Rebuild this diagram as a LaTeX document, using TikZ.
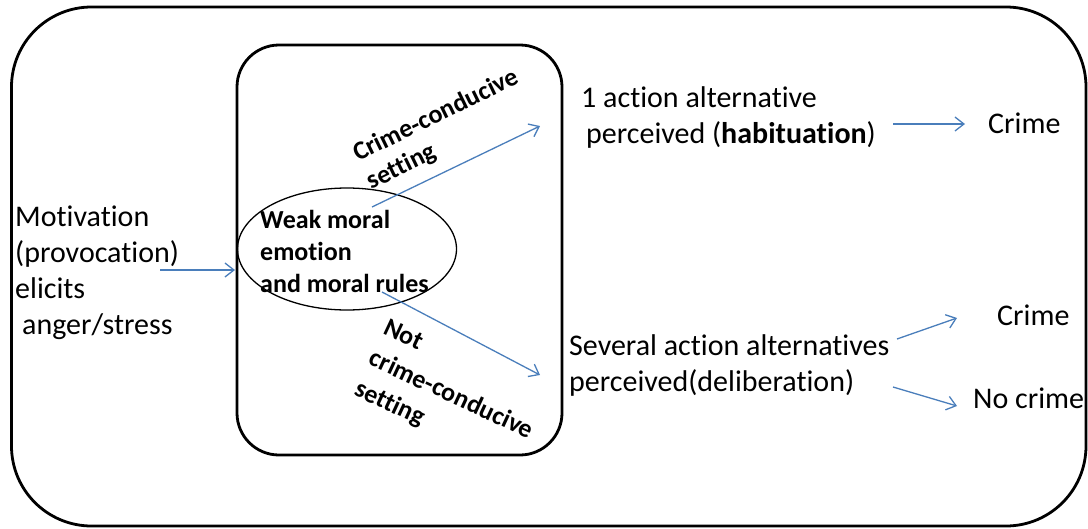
\documentclass[tikz,border=0pt]{standalone}
\usepackage{fontspec}
\setmainfont{Carlito}[Ligatures={NoCommon}]
\usetikzlibrary{shapes.geometric,arrows.meta}
\definecolor{arrowblue}{RGB}{74,126,187}
\begin{document}
\begin{tikzpicture}[x=1pt,y=-1pt,
  txt/.style={inner sep=0pt, anchor=base west, font=\fontsize{30}{36}\selectfont},
  btxt/.style={inner sep=0pt, anchor=base west, font=\fontsize{26}{32}\bfseries\selectfont},
  conn/.style={draw=arrowblue, line width=1.3pt, -{Straight Barb[length=9pt,width=14pt]}},
  frame/.style={draw, line width=2.8pt}
]
\useasboundingbox (0,0) rectangle (1088,528);
% frames
\draw[frame, rounded corners=80pt] (11.5,7) rectangle (1086,526);
\draw[frame, rounded corners=42pt] (237,45) rectangle (562,455);
% ellipse
\node[draw, ellipse, line width=1.3pt, minimum width=219pt, minimum height=122pt, inner sep=0pt] (emo) at (347,249) {};
\node[btxt] (emotxt) at (260,228) {\begin{tabular}[t]{@{}l@{}}Weak moral\\emotion\\and moral rules\end{tabular}};
% texts
\node[txt] (mot) at (15,226) {\begin{tabular}[t]{@{}l@{}}Motivation\\(provocation)\\elicits\\\hspace*{7pt}anger/stress\end{tabular}};
\node[txt] (one) at (581,107) {\begin{tabular}[t]{@{}l@{}}1 action alternative\\\hspace*{5pt}perceived (\textbf{habituation})\end{tabular}};
\node[txt] (sev) at (569,355) {\begin{tabular}[t]{@{}l@{}}Several action alternatives\\perceived(deliberation)\end{tabular}};
\node[txt] (crimeA) at (988,133) {Crime};
\node[txt] (crimeB) at (997,325) {Crime};
\node[txt] (nocrime) at (973,408) {No crime};
% rotated labels
\node[btxt, rotate=26, font=\fontsize{26}{31}\bfseries\selectfont] (cc) at (358,162) {\begin{tabular}[t]{@{}l@{}}Crime-conducive\\setting\end{tabular}};
\node[btxt, rotate=-25, font=\fontsize{26}{34}\bfseries\selectfont] (ncc) at (382,333) {\begin{tabular}[t]{@{}l@{}}Not\\crime-conducive\\setting\end{tabular}};
% connector end points
\coordinate (motout) at (160,270);
\coordinate (boxin) at (235,270);
\coordinate (emoup) at (372,207);
\coordinate (emodown) at (382,292);
\coordinate (oneIn) at (540,126);
\coordinate (sevIn) at (540,375);
\coordinate (oneOut) at (893,124);
\coordinate (crimeAin) at (965,124);
\coordinate (sevOutA) at (897,339);
\coordinate (crimeBin) at (957,318);
\coordinate (sevOutB) at (893,387);
\coordinate (nocrimein) at (957,406);
% connectors
\draw[conn] (motout) -- (boxin);
\draw[conn] (emoup) -- (oneIn);
\draw[conn] (emodown) -- (sevIn);
\draw[conn] (oneOut) -- (crimeAin);
\draw[conn] (sevOutA) -- (crimeBin);
\draw[conn] (sevOutB) -- (nocrimein);
\end{tikzpicture}
\end{document}
